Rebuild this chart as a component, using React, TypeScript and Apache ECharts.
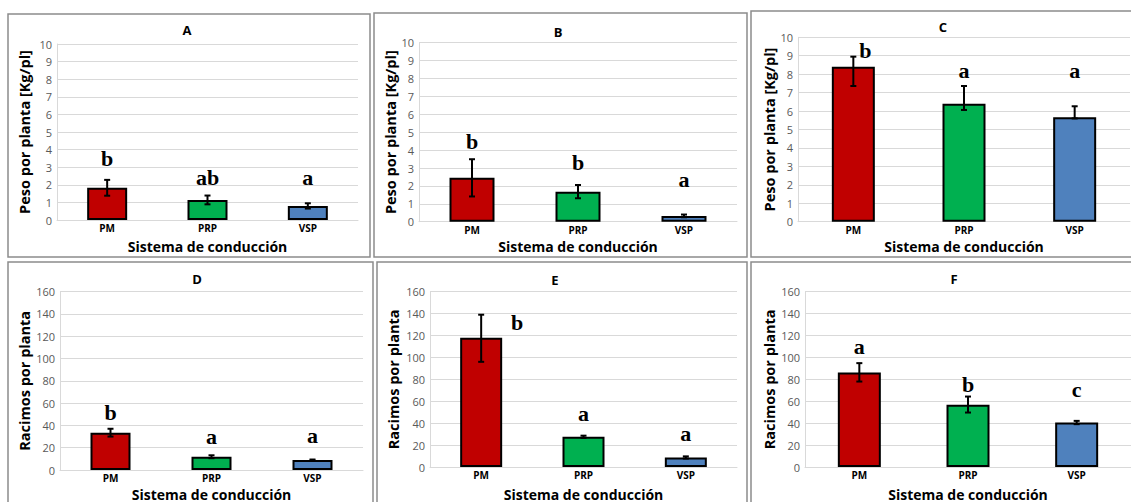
import React, { useEffect, useRef } from "react";
import * as echarts from "echarts";

const categories = ["PM", "PRP", "VSP"];
const barColors = ["#C00000", "#00B050", "#4F81BD"];

// Peso por planta [Kg/pl]
const pesoA = [1.83, 1.14, 0.8];
const pesoAPlus = [0.45, 0.25, 0.15];
const pesoAMinus = [0.45, 0.25, 0.15];
const lettersA = ["b", "ab", "a"];
const letterYA = [3.52, 2.44, 2.44];

const pesoB = [2.46, 1.68, 0.32];
const pesoBPlus = [1.03, 0.37, 0.08];
const pesoBMinus = [1.05, 0.37, 0.07];
const lettersB = ["b", "b", "a"];
const letterYB = [4.47, 3.28, 2.33];

const pesoC = [8.4, 6.4, 5.66];
const pesoCPlus = [0.55, 0.96, 0.6];
const pesoCMinus = [1.04, 0.34, 0.06];
const lettersC = ["b", "a", "a"];
const letterYC = [9.31, 8.19, 8.19];

// Racimos por planta
const racD = [33.5, 11.9, 8.9];
const racDPlus = [3.5, 1.3, 0.5];
const racDMinus = [3.5, 1.3, 0.5];
const lettersD = ["b", "a", "a"];
const letterYD = [51.3, 30, 30.8];

const racE = [118, 27.6, 8.7];
const racEPlus = [21, 1, 1];
const racEMinus = [22, 1, 1];
const lettersE = ["b", "a", "a"];
const letterYE = [131.5, 48.6, 30.3];

const racF = [86.2, 56.8, 40.6];
const racFPlus = [8.6, 7.5, 1.5];
const racFMinus = [8.2, 7.1, 1.5];
const lettersF = ["a", "b", "c"];
const letterYF = [109.6, 75, 70.5];

const panelTitles = ["A", "B", "C", "D", "E", "F"];
const yNamePeso = "Peso por planta [Kg/pl]";
const yNameRac = "Racimos por planta";
const xName = "Sistema de conducción";

type Panel = {
  title: string;
  values: number[];
  plus: number[];
  minus: number[];
  letters: string[];
  letterY: number[];
  yName: string;
  max: number;
  interval: number;
  grid: { left: number; top: number; width: number; height: number };
  box: { x: number; y: number; width: number; height: number };
  titlePos: { x: number; y: number };
  barWidth: number;
  yGap: number;
  xGap: number;
  letterDx: number[];
};

const panels: Panel[] = [
  {
    title: panelTitles[0], values: pesoA, plus: pesoAPlus, minus: pesoAMinus,
    letters: lettersA, letterY: letterYA, yName: yNamePeso, max: 10, interval: 1,
    grid: { left: 57, top: 44, width: 301, height: 176 },
    box: { x: 8, y: 14, width: 362, height: 243 },
    titlePos: { x: 187, y: 23 }, barWidth: 40, yGap: 25, xGap: 19, letterDx: [0, 0, 0],
  },
  {
    title: panelTitles[1], values: pesoB, plus: pesoBPlus, minus: pesoBMinus,
    letters: lettersB, letterY: letterYB, yName: yNamePeso, max: 10, interval: 1,
    grid: { left: 419, top: 42.7, width: 318, height: 179 },
    box: { x: 374, y: 13, width: 373, height: 244 },
    titlePos: { x: 558, y: 25 }, barWidth: 45, yGap: 20, xGap: 18, letterDx: [0, 0, 0],
  },
  {
    title: panelTitles[2], values: pesoC, plus: pesoCPlus, minus: pesoCMinus,
    letters: lettersC, letterY: letterYC, yName: yNamePeso, max: 10, interval: 1,
    grid: { left: 798, top: 37.3, width: 332, height: 184.4 },
    box: { x: 751, y: 11, width: 420, height: 246 },
    titlePos: { x: 943, y: 20 }, barWidth: 43, yGap: 21, xGap: 18, letterDx: [12, 0, 0],
  },
  {
    title: panelTitles[3], values: racD, plus: racDPlus, minus: racDMinus,
    letters: lettersD, letterY: letterYD, yName: yNameRac, max: 160, interval: 20,
    grid: { left: 60, top: 291.7, width: 303, height: 180 },
    box: { x: 8, y: 262, width: 365, height: 260 },
    titlePos: { x: 197, y: 272 }, barWidth: 40, yGap: 28, xGap: 17, letterDx: [0, 0, 0],
  },
  {
    title: panelTitles[4], values: racE, plus: racEPlus, minus: racEMinus,
    letters: lettersE, letterY: letterYE, yName: yNameRac, max: 160, interval: 20,
    grid: { left: 430, top: 291.7, width: 307, height: 175.6 },
    box: { x: 377, y: 262, width: 370, height: 260 },
    titlePos: { x: 555, y: 273 }, barWidth: 42, yGap: 29, xGap: 20, letterDx: [36, 0, 0],
  },
  {
    title: panelTitles[5], values: racF, plus: racFPlus, minus: racFMinus,
    letters: lettersF, letterY: letterYF, yName: yNameRac, max: 160, interval: 20,
    grid: { left: 805, top: 291.7, width: 326, height: 175.6 },
    box: { x: 751, y: 262, width: 420, height: 260 },
    titlePos: { x: 954, y: 272 }, barWidth: 43, yGap: 28, xGap: 20, letterDx: [0, 0, 0],
  },
];

const FONT = "'Open Sans', 'Noto Sans', sans-serif";

export default function App() {
  const ref = useRef<HTMLDivElement>(null);

  useEffect(() => {
    if (!ref.current) return;
    const chart = echarts.init(ref.current, null, { renderer: "svg" });

    const grid: any[] = [];
    const xAxis: any[] = [];
    const yAxis: any[] = [];
    const series: any[] = [];
    const title: any[] = [];
    const graphic: any[] = [];

    panels.forEach((p, i) => {
      grid.push({ ...p.grid, containLabel: false });
      graphic.push({
        type: "rect",
        shape: { ...p.box },
        style: { fill: "none", stroke: "#8c8c8c", lineWidth: 1.5 },
        silent: true,
        z: 0,
      });
      title.push({
        text: p.title,
        left: p.titlePos.x,
        top: p.titlePos.y,
        textAlign: "center",
        textStyle: { fontFamily: FONT, fontSize: 13, fontWeight: "bold", color: "#000" },
        padding: 0,
      });
      xAxis.push({
        type: "category",
        gridIndex: i,
        data: categories,
        name: xName,
        nameLocation: "middle",
        nameGap: p.xGap,
        nameTextStyle: { fontFamily: FONT, fontSize: 14, fontWeight: "bold", color: "#000" },
        axisLine: { show: true, lineStyle: { color: "#d9d9d9", width: 1 } },
        axisTick: { show: false },
        axisLabel: { fontFamily: FONT, fontSize: 10, fontWeight: "bold", color: "#000", margin: 3 },
      });
      yAxis.push({
        type: "value",
        gridIndex: i,
        min: 0,
        max: p.max,
        interval: p.interval,
        name: p.yName,
        nameLocation: "middle",
        nameGap: p.yGap,
        nameTextStyle: { fontFamily: FONT, fontSize: 14.5, fontWeight: "bold", color: "#000" },
        axisLine: { show: true, lineStyle: { color: "#d9d9d9", width: 1 } },
        axisTick: { show: false },
        axisLabel: { fontFamily: FONT, fontSize: 11, color: "#595959", margin: 5 },
        splitLine: { show: true, lineStyle: { color: "#d9d9d9", width: 1 } },
      });
      series.push({
        type: "bar",
        xAxisIndex: i,
        yAxisIndex: i,
        barWidth: p.barWidth,
        data: p.values.map((v, k) => ({
          value: v,
          itemStyle: { color: barColors[k], borderColor: "#000", borderWidth: 2 },
        })),
        z: 2,
      });
      series.push({
        type: "custom",
        xAxisIndex: i,
        yAxisIndex: i,
        z: 5,
        data: p.values.map((v, k) => [k, v + p.plus[k], v - p.minus[k]]),
        renderItem: (params: any, api: any) => {
          const x = api.value(0);
          const hi = api.coord([x, api.value(1)]);
          const lo = api.coord([x, api.value(2)]);
          const cap = 3;
          const st = { stroke: "#000", lineWidth: 2 };
          return {
            type: "group",
            children: [
              { type: "line", shape: { x1: hi[0], y1: hi[1], x2: lo[0], y2: lo[1] }, style: st },
              { type: "line", shape: { x1: hi[0] - cap, y1: hi[1], x2: hi[0] + cap, y2: hi[1] }, style: st },
              { type: "line", shape: { x1: lo[0] - cap, y1: lo[1], x2: lo[0] + cap, y2: lo[1] }, style: st },
            ],
          };
        },
      });
      series.push({
        type: "custom",
        xAxisIndex: i,
        yAxisIndex: i,
        z: 6,
        data: p.letterY.map((y, k) => [k, y]),
        renderItem: (params: any, api: any) => {
          const k = api.value(0);
          const pt = api.coord([k, api.value(1)]);
          return {
            type: "text",
            x: pt[0] + p.letterDx[k],
            y: pt[1],
            style: {
              text: p.letters[k],
              fontFamily: "'Liberation Serif', 'Times New Roman', serif",
              fontSize: 22,
              fontWeight: "bold",
              fill: "#000",
              align: "center",
              verticalAlign: "middle",
            },
          };
        },
      });
    });

    chart.setOption({
      animation: false,
      backgroundColor: "#fff",
      title,
      grid,
      xAxis,
      yAxis,
      series,
      graphic,
    });

    return () => chart.dispose();
  }, []);

  return (
    <div
      ref={ref}
      style={{ position: "absolute", left: 0, top: 0, width: 1131, height: 502 }}
    />
  );
}
